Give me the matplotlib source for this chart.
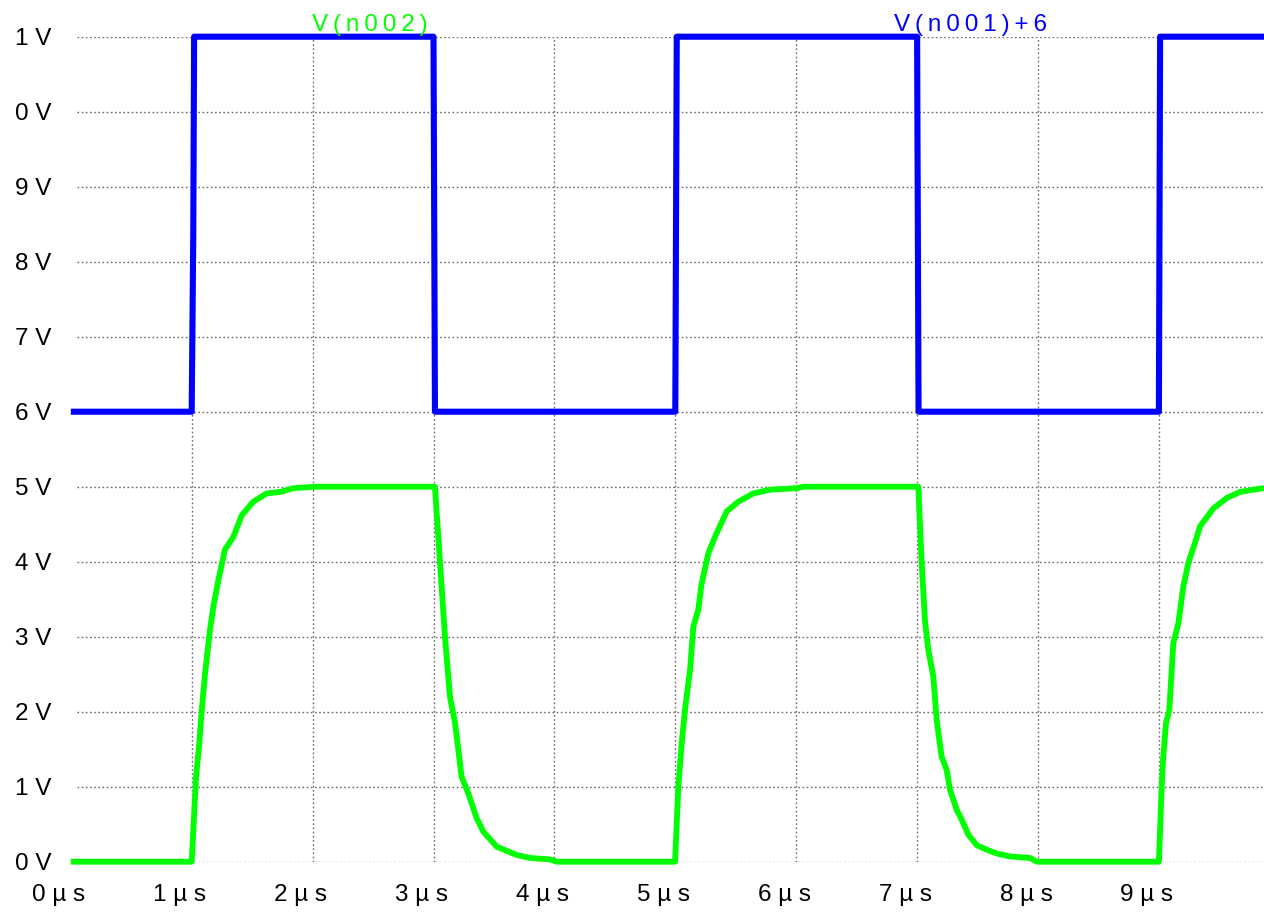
import matplotlib
matplotlib.use("Agg")
from matplotlib import pyplot as plt
from matplotlib.transforms import ScaledTranslation

plt.rcParams['font.family'] = ['Liberation Sans', 'DejaVu Sans']

# V(n001)+6 : square drive, in volts, time in microseconds
t_blue = [0.0, 1.0, 1.013, 1.02, 3.0, 3.012, 5.0, 5.012, 7.0, 7.012, 9.0, 9.01, 10.0]
v_blue = [6, 6, 8.38, 11, 11, 6, 6, 11, 11, 6, 6, 11, 11]

# V(n002) : RC node
t_green = [0.0, 1.0, 1.036, 1.063, 1.083, 1.11, 1.151, 1.179, 1.22, 1.275, 1.344, 1.414,
           1.51, 1.62, 1.73, 1.84, 2.034,
           3.012, 3.054, 3.095, 3.136, 3.178, 3.233, 3.288, 3.357, 3.412, 3.523, 3.688,
           3.798, 3.963, 4.019,
           4.998, 5.025, 5.053, 5.08, 5.122, 5.149, 5.19, 5.218, 5.273, 5.328, 5.425,
           5.521, 5.645, 5.783, 6.004, 6.06,
           7.01, 7.038, 7.065, 7.093, 7.134, 7.162, 7.203, 7.245, 7.272, 7.328, 7.369,
           7.424, 7.493, 7.576, 7.658, 7.768, 7.934, 7.989,
           9.0, 9.023, 9.036, 9.059, 9.086, 9.119, 9.161, 9.202, 9.243, 9.298, 9.34,
           9.45, 9.561, 9.671, 9.781, 9.864, 10.0]
v_green = [0.0, 0.0, 1.13, 1.58, 2.02, 2.5, 3.09, 3.4, 3.75, 4.16, 4.33, 4.62,
           4.8, 4.91, 4.93, 4.98, 5.0,
           5.0, 3.98, 3.0, 2.2, 1.85, 1.13, 0.91, 0.58, 0.4, 0.2, 0.09,
           0.05, 0.03, 0.0,
           0.0, 1.0, 1.58, 2.02, 2.56, 3.13, 3.36, 3.71, 4.11, 4.33, 4.67,
           4.8, 4.91, 4.96, 4.98, 5.0,
           5.0, 3.98, 3.22, 2.82, 2.47, 1.89, 1.4, 1.22, 0.96, 0.69, 0.56,
           0.36, 0.22, 0.16, 0.11, 0.07, 0.05, 0.0,
           0.0, 1.0, 1.4, 1.85, 2.02, 2.91, 3.18, 3.67, 3.98, 4.25, 4.47,
           4.71, 4.85, 4.93, 4.96, 4.98, 4.99]

x_ticks = list(range(10))
x_labels = ["%d µ s" % i for i in x_ticks]
y_ticks = list(range(12))
y_labels = ["%d V" % (i % 10) for i in y_ticks]

W, H = 1264, 913
fig = plt.figure(figsize=(W / 100, H / 100), dpi=100)
left, bottom = 70.8, 861.7
px_us, px_v = 120.9, 75.0
ax = fig.add_axes([left / W, (H - bottom) / H, 10 * px_us / W, 11 * px_v / H])
ax.set_xlim(0, 10)
ax.set_ylim(0, 11)

for s in ax.spines.values():
    s.set_visible(False)

fs = 17.5
ax.set_xticks(x_ticks, x_labels)
ax.set_yticks(y_ticks, y_labels)
ax.tick_params(length=0, labelsize=fs, colors='black')
ax.tick_params(axis='y', pad=14)
ax.tick_params(axis='x', pad=16)

gs = dict(color='#6a6a6a', linewidth=1.0, linestyle=(0, (1.2, 1.8)))
for v in y_ticks:
    ax.axhline(v, xmin=0.005, **gs, zorder=1)
for t in x_ticks[1:]:
    ax.axvline(t, **gs, zorder=1)

ax.plot(t_blue, v_blue, color='#0000ff', lw=4.4, clip_on=False,
        solid_joinstyle='round', solid_capstyle='butt', zorder=3)
ax.plot(t_green, v_green, color='#00ff00', lw=4.2, clip_on=False,
        solid_joinstyle='round', solid_capstyle='butt', zorder=3)

ts = "\u2009"
fig.text(370 / W, 1 - 31 / H, ts.join("V(n002)"), color='#00ff00',
         fontsize=fs, ha='center', va='baseline')
fig.text(971 / W, 1 - 31 / H, ts.join("V(n001)+6"), color='#0000ff',
         fontsize=fs, ha='center', va='baseline')

off = ScaledTranslation(-12 / 100, 0, fig.dpi_scale_trans)
for lbl in ax.get_xticklabels():
    lbl.set_transform(lbl.get_transform() + off)

fig.savefig("out.png", dpi=100)
